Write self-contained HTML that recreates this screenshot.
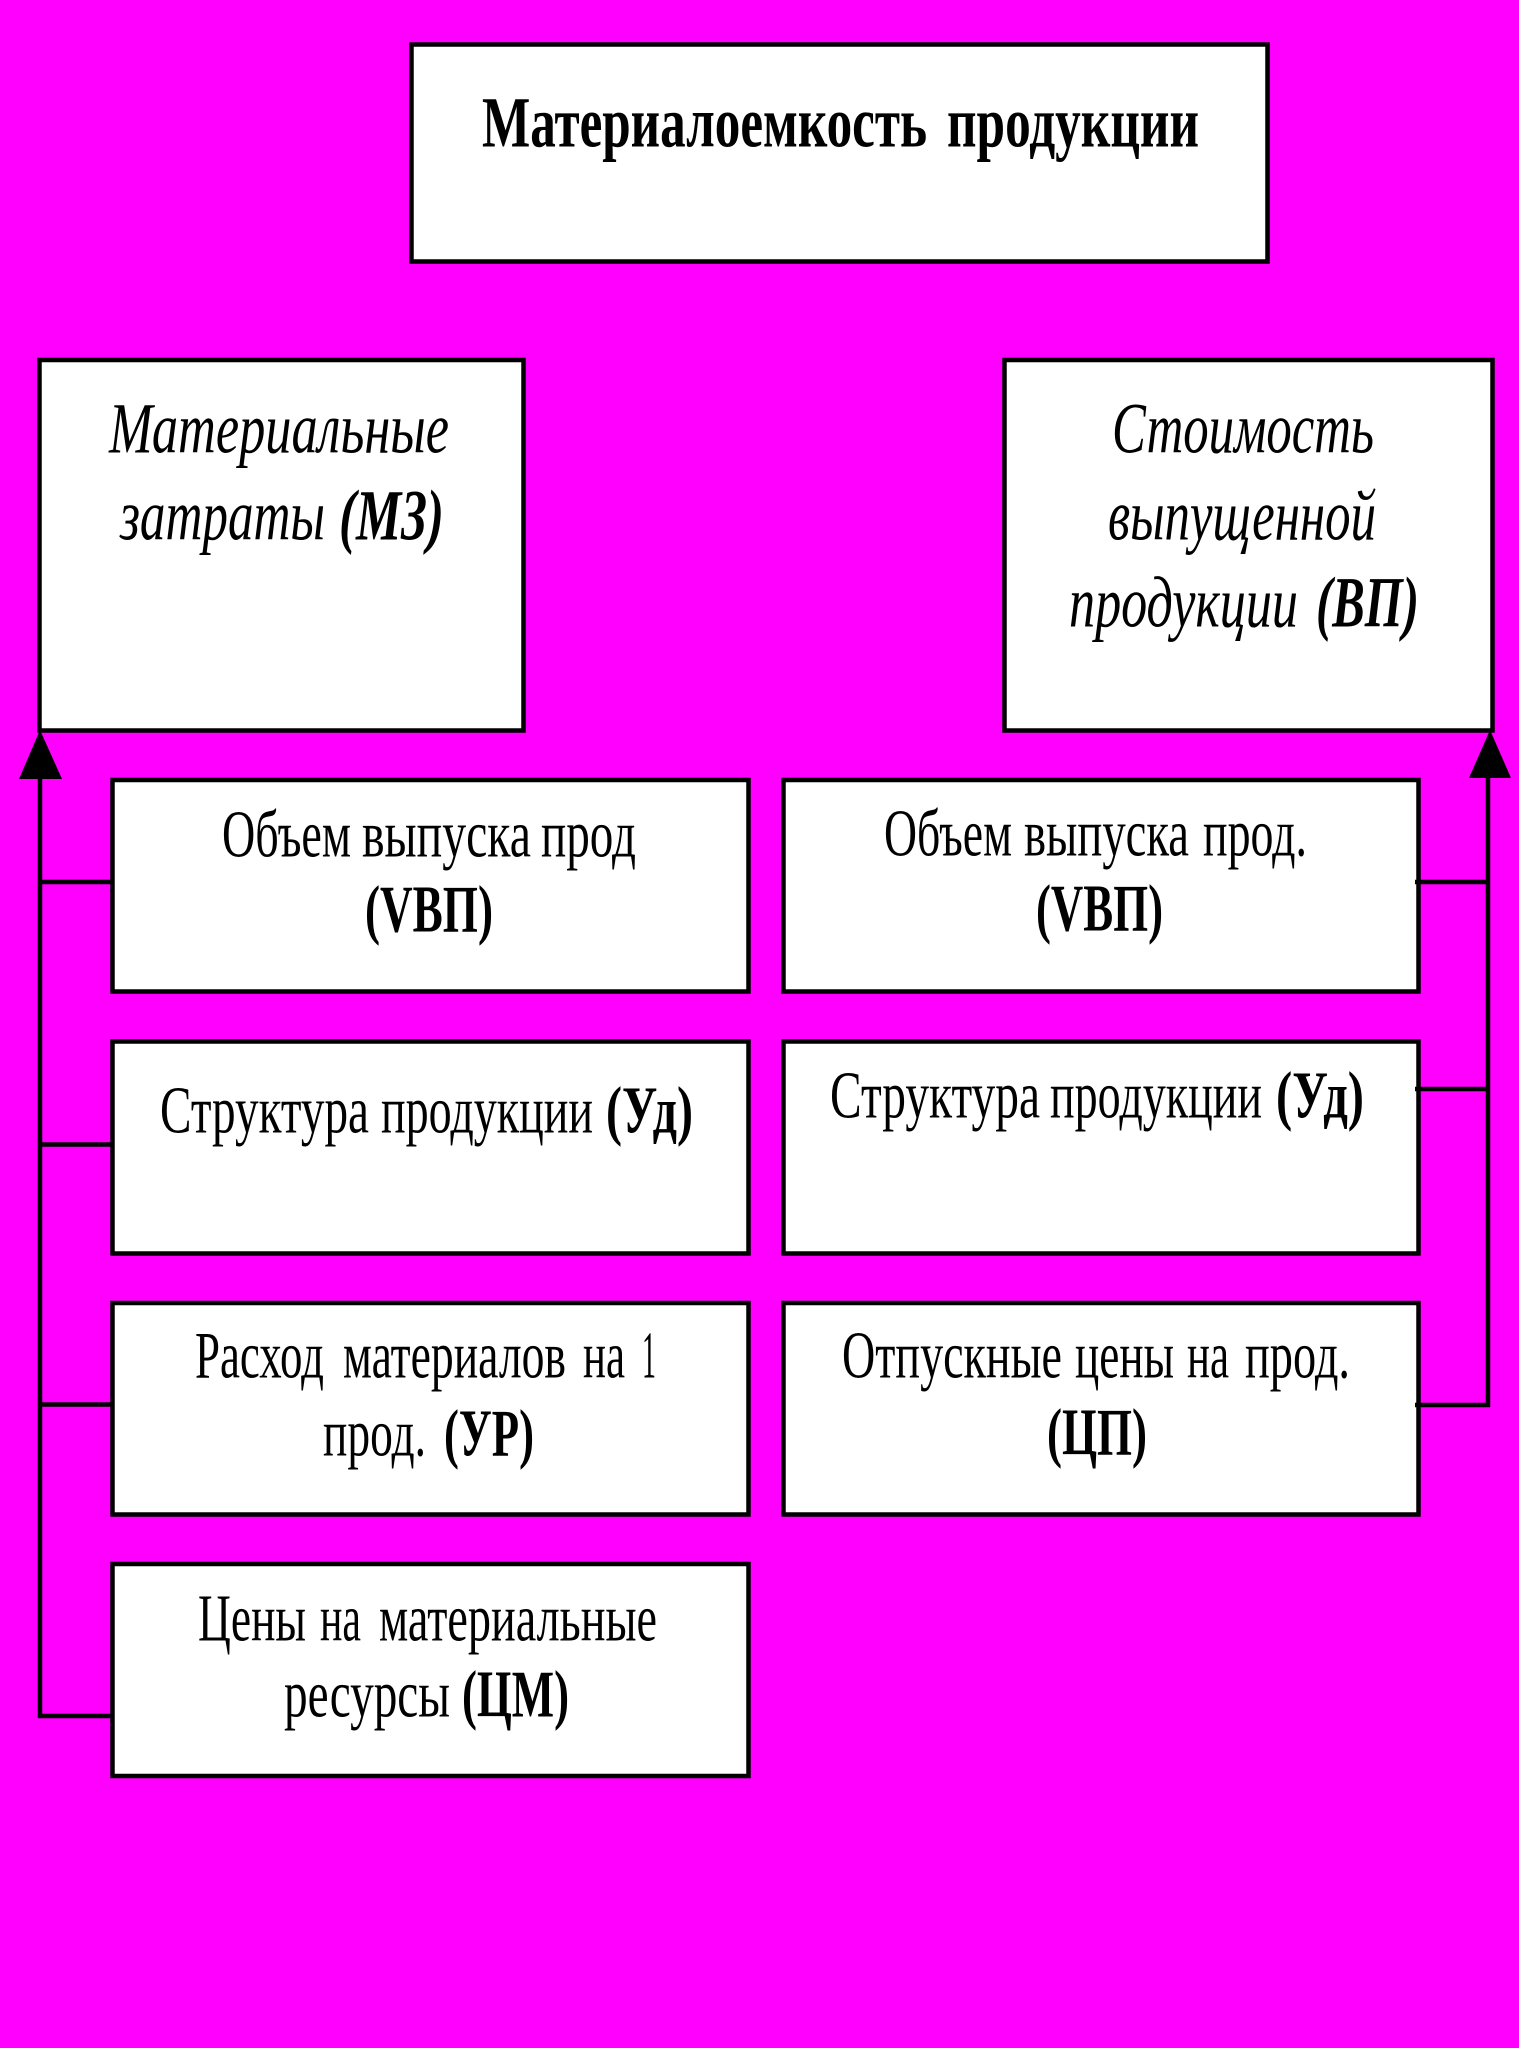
<!DOCTYPE html>
<html lang="ru">
<head>
<meta charset="utf-8">
<title>Материалоемкость продукции</title>
<style>
html,body{margin:0;padding:0;background:#ff00ff;width:1519px;height:2048px;overflow:hidden}
svg{display:block}
text{font-family:"Liberation Serif","Noto Serif CJK SC",serif;fill:#000}
.t{font-size:72px;font-weight:bold}
.i{font-size:72px;font-style:italic}
.ib{font-size:72px;font-style:italic;font-weight:bold}
.r{font-size:67px}
.b{font-size:67px;font-weight:bold}
rect{fill:#fff;stroke:#000;stroke-width:4.5}
line{stroke:#000;stroke-width:4.5}
</style>
</head>
<body>
<svg xmlns="http://www.w3.org/2000/svg" width="1519" height="2048" viewBox="0 0 1519 2048">
<rect width="1519" height="2048" style="fill:#ff00ff;stroke:none"/>

<rect x="411.5" y="44.5" width="856" height="217"/>
<rect x="39.5" y="360" width="484" height="370.5"/>
<rect x="1004.5" y="360" width="488" height="370.5"/>

<rect x="112.5" y="780" width="636" height="211.5"/>
<rect x="112.5" y="1041.5" width="636" height="212"/>
<rect x="112.5" y="1303" width="636" height="211.5"/>
<rect x="112.5" y="1564" width="636" height="212"/>

<rect x="783.5" y="780" width="635" height="211.5"/>
<rect x="783.5" y="1041.5" width="635" height="212"/>
<rect x="783.5" y="1303" width="635" height="211.5"/>

<line x1="40" y1="740" x2="40" y2="1718"/>
<line x1="38" y1="882" x2="112" y2="882"/>
<line x1="38" y1="1144.5" x2="112" y2="1144.5"/>
<line x1="38" y1="1404.5" x2="112" y2="1404.5"/>
<line x1="38" y1="1716" x2="112" y2="1716"/>
<polygon points="40,730 19,779 62,779" fill="#000"/>

<line x1="1488" y1="740" x2="1488" y2="1407"/>
<line x1="1415" y1="882" x2="1490" y2="882"/>
<line x1="1415" y1="1089" x2="1490" y2="1089"/>
<line x1="1415" y1="1405" x2="1490" y2="1405"/>
<polygon points="1490,730 1469,778 1511,778" fill="#000"/>

<g transform="translate(0,2.5)">
<text class="t" x="482" y="144" textLength="445" lengthAdjust="spacingAndGlyphs">Материалоемкость</text>
<text class="t" x="947" y="144" textLength="252" lengthAdjust="spacingAndGlyphs">продукции</text>

<text class="i" x="109" y="450" textLength="340" lengthAdjust="spacingAndGlyphs">Материальные</text>
<text class="i" x="120" y="537" textLength="205" lengthAdjust="spacingAndGlyphs">затраты</text>
<text class="ib" x="339" y="537" textLength="105" lengthAdjust="spacingAndGlyphs">(МЗ)</text>

<text class="i" x="1112" y="450" textLength="262" lengthAdjust="spacingAndGlyphs">Стоимость</text>
<text class="i" x="1108" y="537" textLength="268" lengthAdjust="spacingAndGlyphs">выпущенной</text>
<text class="i" x="1069" y="624" textLength="229" lengthAdjust="spacingAndGlyphs">продукции</text>
<text class="ib" x="1316" y="624" textLength="103" lengthAdjust="spacingAndGlyphs">(ВП)</text>

<text class="r" x="222" y="854" textLength="129" lengthAdjust="spacingAndGlyphs">Объем</text>
<text class="r" x="362" y="854" textLength="169" lengthAdjust="spacingAndGlyphs">выпуска</text>
<text class="r" x="541" y="854" textLength="95" lengthAdjust="spacingAndGlyphs">прод</text>
<text class="b" x="365" y="929" textLength="128" lengthAdjust="spacingAndGlyphs">(VBП)</text>

<text class="r" x="160" y="1130" textLength="209" lengthAdjust="spacingAndGlyphs">Структура</text>
<text class="r" x="381" y="1130" textLength="212" lengthAdjust="spacingAndGlyphs">продукции</text>
<text class="b" x="606" y="1130" textLength="87" lengthAdjust="spacingAndGlyphs">(Уд)</text>

<text class="r" x="195" y="1375" textLength="129" lengthAdjust="spacingAndGlyphs">Расход</text>
<text class="r" x="343" y="1375" textLength="223" lengthAdjust="spacingAndGlyphs">материалов</text>
<text class="r" x="583" y="1375" textLength="42" lengthAdjust="spacingAndGlyphs">на</text>
<text class="r" x="642" y="1375" textLength="14" lengthAdjust="spacingAndGlyphs">1</text>
<text class="r" x="323" y="1453" textLength="103" lengthAdjust="spacingAndGlyphs">прод.</text>
<text class="b" x="444" y="1453" textLength="90" lengthAdjust="spacingAndGlyphs">(УР)</text>

<text class="r" x="198" y="1638" textLength="108" lengthAdjust="spacingAndGlyphs">Цены</text>
<text class="r" x="320" y="1638" textLength="41" lengthAdjust="spacingAndGlyphs">на</text>
<text class="r" x="379" y="1638" textLength="278" lengthAdjust="spacingAndGlyphs">материальные</text>
<text class="r" x="284" y="1714" textLength="166" lengthAdjust="spacingAndGlyphs">ресурсы</text>
<text class="b" x="462" y="1714" textLength="107" lengthAdjust="spacingAndGlyphs">(ЦМ)</text>

<text class="r" x="884" y="853" textLength="128" lengthAdjust="spacingAndGlyphs">Объем</text>
<text class="r" x="1024" y="853" textLength="165" lengthAdjust="spacingAndGlyphs">выпуска</text>
<text class="r" x="1203" y="853" textLength="104" lengthAdjust="spacingAndGlyphs">прод.</text>
<text class="b" x="1036" y="928" textLength="127" lengthAdjust="spacingAndGlyphs">(VBП)</text>

<text class="r" x="830" y="1115" textLength="210" lengthAdjust="spacingAndGlyphs">Структура</text>
<text class="r" x="1050" y="1115" textLength="212" lengthAdjust="spacingAndGlyphs">продукции</text>
<text class="b" x="1276" y="1115" textLength="88" lengthAdjust="spacingAndGlyphs">(Уд)</text>

<text class="r" x="842" y="1375" textLength="220" lengthAdjust="spacingAndGlyphs">Отпускные</text>
<text class="r" x="1075" y="1375" textLength="99" lengthAdjust="spacingAndGlyphs">цены</text>
<text class="r" x="1187" y="1375" textLength="42" lengthAdjust="spacingAndGlyphs">на</text>
<text class="r" x="1245" y="1375" textLength="105" lengthAdjust="spacingAndGlyphs">прод.</text>
<text class="b" x="1047" y="1452" textLength="100" lengthAdjust="spacingAndGlyphs">(ЦП)</text>
</g>
</svg>
</body>
</html>
